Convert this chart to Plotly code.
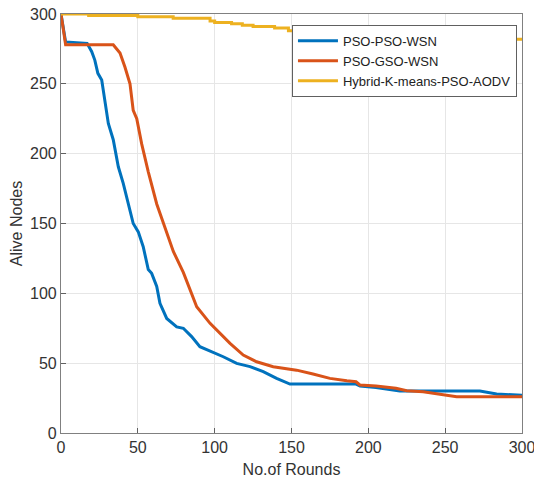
import plotly.graph_objects as go

# PSO-PSO-WSN (blue)
blue_x = [0, 3, 17, 20, 22, 24, 26.5, 28.6, 30.8, 34, 37.3, 40.5, 43.8, 47, 50.3, 53.5, 56.8, 59, 62.3,
          64.4, 68.8, 75.3, 79.6, 85, 90.4, 98, 105.6, 114.3, 123, 131.6, 140.3, 149, 192, 194.6, 205,
          220.5, 272.6, 283.5, 300]
blue_y = [300, 280, 279, 273, 267, 257.5, 252.7, 236, 221.7, 210, 190.6, 178.7, 164.4, 150, 144, 133.4,
          117, 114.3, 105, 92.8, 82, 76, 75, 69, 61.8, 58.2, 54.6, 49.8, 47.5, 43.9, 39.1, 35, 35, 33.6,
          32.6, 30, 30, 28, 27]

# PSO-GSO-WSN (red)
red_x = [0, 3, 34, 38.4, 41.6, 44.9, 47, 49.3, 52.5, 56.8, 62.3, 66.6, 73.1, 79.6, 84, 88.3, 97, 103.4,
         110, 118.6, 127.3, 138.1, 153.3, 164, 175, 186, 192, 194.5, 205, 218, 225, 235.7, 246.6, 257.5, 300]
red_y = [300, 278, 278, 272, 262, 250, 231, 225, 207, 187, 164, 150, 130, 115, 103, 90.4, 78.5, 71.3,
         64.2, 55.8, 51, 47.5, 45, 42.2, 39.1, 37.4, 36.7, 34.4, 33.6, 32, 30.3, 29.6, 27.9, 26, 26]

# Hybrid-K-means-PSO-AODV (yellow)
yel_x = [0, 18, 50, 73, 97, 100, 111, 118, 125, 139, 148, 200, 250, 285, 300]
yel_y = [300, 299, 298, 297, 295, 294, 293, 292, 291, 290, 288, 286, 284, 282, 282]

tick_vals = [0, 50, 100, 150, 200, 250, 300]

FONT = "Liberation Sans, Arial, sans-serif"

fig = go.Figure()
fig.add_trace(go.Scatter(x=blue_x, y=blue_y, mode="lines", name="PSO-PSO-WSN",
                         line=dict(color="#0072BD", width=3)))
fig.add_trace(go.Scatter(x=red_x, y=red_y, mode="lines", name="PSO-GSO-WSN",
                         line=dict(color="#D95319", width=3)))
fig.add_trace(go.Scatter(x=yel_x, y=yel_y, mode="lines", name="Hybrid-K-means-PSO-AODV",
                         line=dict(color="#EDB120", width=3, shape="hv")))

axis_common = dict(
    showline=True, mirror=True, linecolor="#808080", linewidth=1.2,
    ticks="inside", ticklen=5, tickcolor="#606060",
    showgrid=True, gridcolor="#e6e6e6", gridwidth=1,
    zeroline=False, tickvals=tick_vals, automargin=False,
    ticklabeloverflow="allow",
    tickfont=dict(family=FONT, size=16, color="#333333"),
)

fig.update_xaxes(range=[0, 300], title=dict(text="No.of Rounds", standoff=8,
                 font=dict(family=FONT, size=16, color="#333333")),
                 **axis_common)
fig.update_yaxes(range=[0, 300], title=dict(text="Alive Nodes", standoff=3,
                 font=dict(family=FONT, size=16, color="#333333")),
                 **axis_common)

fig.update_layout(
    width=534, height=485,
    margin=dict(l=61, r=12, t=14, b=52),
    plot_bgcolor="white", paper_bgcolor="white",
    legend=dict(x=0.501, y=0.974, xanchor="left", yanchor="top",
                bgcolor="white", bordercolor="#606060", borderwidth=1,
                font=dict(family=FONT, size=13, color="#222222"),
                itemwidth=40, tracegroupgap=0),
    showlegend=True,
)

fig.write_html("out.html", config={"displayModeBar": False},
               post_script="document.body.style.margin='0';")
